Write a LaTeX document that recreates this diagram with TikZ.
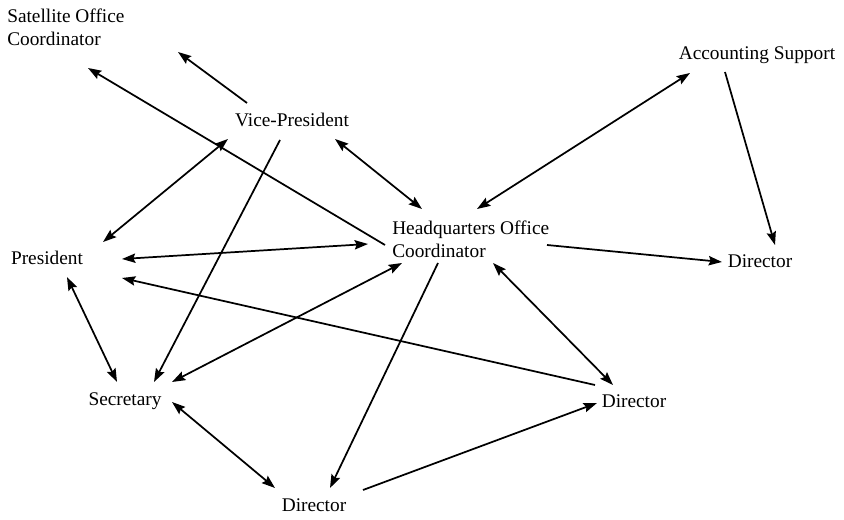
\documentclass[tikz,border=0pt]{standalone}
\usepackage{fontspec}
\setmainfont{Liberation Serif}
\usetikzlibrary{arrows.meta,calc}
\begin{document}
\begin{tikzpicture}[x=0.75pt,y=-0.75pt]
\tikzset{
  txt/.style={inner sep=0pt, font=\fontsize{14.5}{17.3}\selectfont},
  lbl/.style={txt, text height=0.7em, text depth=0pt},
  twoline/.style={txt, align=left, anchor=west},
  tip/.tip={Stealth[length=10pt,width=7pt,inset=1.5pt]},
  one/.style={line width=1.3pt, -tip},
  two/.style={line width=1.3pt, tip-tip},
}
\useasboundingbox (0,0) rectangle (844,520);

% people and roles
\node[twoline] (sat) at (7,27) {Satellite Office\\Coordinator};
\node[lbl] (vp) at (292,122) {Vice-President};
\node[lbl] (acc) at (757,55) {Accounting Support};
\node[twoline] (hq) at (392,239) {Headquarters Office\\Coordinator};
\node[lbl] (pres) at (47,260) {President};
\node[lbl] (dirR) at (760,263) {Director};
\node[lbl] (sec) at (125,401) {Secretary};
\node[lbl] (dirM) at (634,403) {Director};
\node[lbl] (dirB) at (314,507) {Director};
\coordinate (vpout) at (178,52);

% communication links
\draw[one] ($(vp)+(-45,-19)$) -- (vpout);
\draw[one] ($(hq.west)+(-7,6)$) -- ($(sat.west)+(81,41)$);
\draw[two] ($(vp)+(43,17)$) -- ($(hq.west)+(30,-30)$);
\draw[two] ($(acc)+(-67,18)$) -- ($(hq.west)+(85,-30)$);
\draw[one] ($(acc)+(-32,17)$) -- ($(dirR)+(15,-18)$);
\draw[one] ($(hq.west)+(155,6)$) -- ($(dirR)+(-38,-1)$);
\draw[two] ($(pres)+(75,-1)$) -- ($(hq.west)+(-24,5)$);
\draw[two] ($(vp)+(-64,17)$) -- ($(pres)+(56,-18)$);
\draw[one] ($(vp)+(-12,18)$) -- ($(sec)+(29,-19)$);
\draw[two] ($(hq.west)+(10,24)$) -- ($(sec)+(47,-19)$);
\draw[two] ($(pres)+(20,17)$) -- ($(sec)+(-8,-19)$);
\draw[one] ($(dirM)+(-39,-18)$) -- ($(pres)+(75,18)$);
\draw[two] ($(hq.west)+(101,24)$) -- ($(dirM)+(-21,-18)$);
\draw[one] ($(hq.west)+(46,24)$) -- ($(dirB)+(16,-19)$);
\draw[two] ($(sec)+(47,1)$) -- ($(dirB)+(-39,-19)$);
\draw[one] ($(dirB)+(49,-17)$) -- ($(dirM)+(-37,0)$);
\end{tikzpicture}
\end{document}
